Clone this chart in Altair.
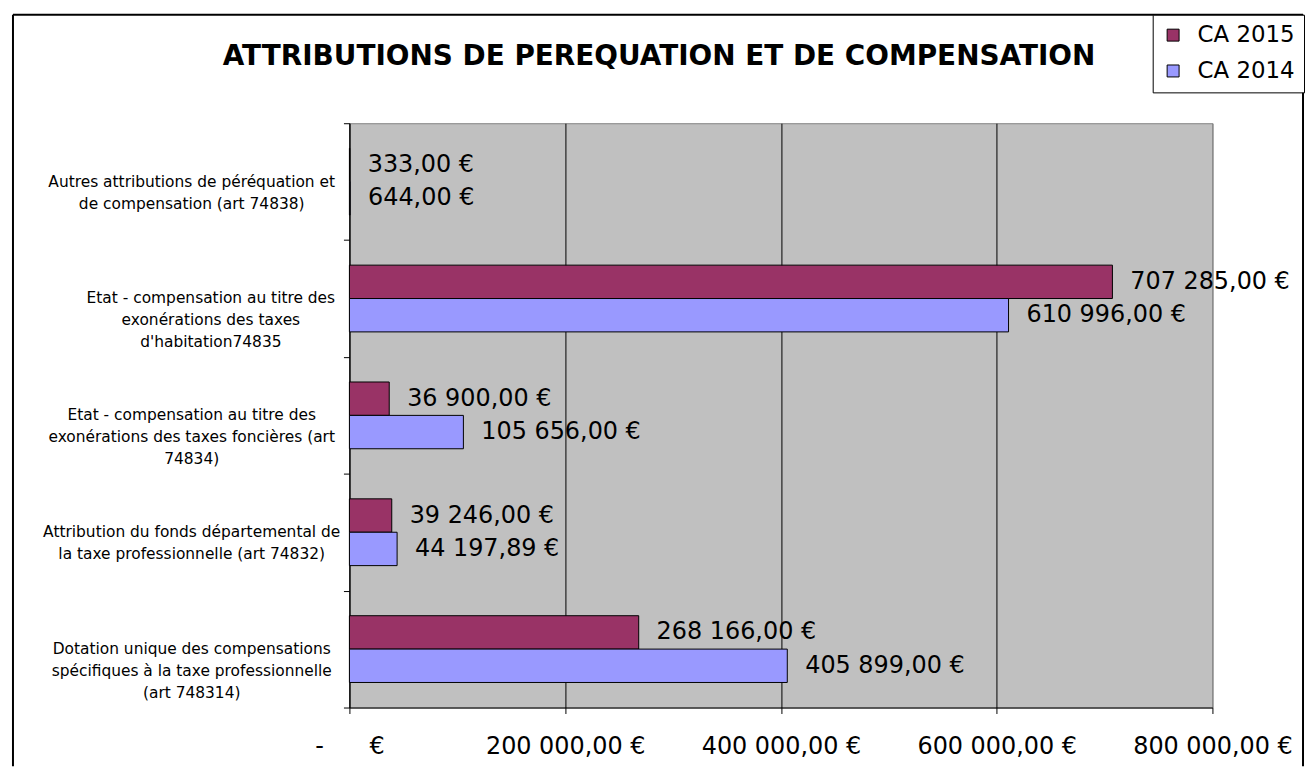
import altair as alt
import pandas as pd

TITLE = "ATTRIBUTIONS DE PEREQUATION ET DE COMPENSATION"
categories = [
    "Autres attributions de péréquation et\nde compensation (art 74838)",
    "Etat - compensation au titre des\nexonérations des taxes\nd'habitation74835",
    "Etat - compensation au titre des\nexonérations des taxes foncières (art\n74834)",
    "Attribution du fonds départemental de\nla taxe professionnelle (art 74832)",
    "Dotation unique des compensations\nspécifiques à la taxe professionnelle\n(art 748314)",
]
series = ["CA 2015", "CA 2014"]
values_2015 = [333.00, 707285.00, 36900.00, 39246.00, 268166.00]
values_2014 = [644.00, 610996.00, 105656.00, 44197.89, 405899.00]
x_ticks = [0, 200000, 400000, 600000, 800000]
colors = ["#993366", "#9999FF"]


def fr(v):
    return f"{v:,.2f}".replace(",", " ").replace(".", ",") + " €"


rows = []
for c, a, b in zip(categories, values_2015, values_2014):
    rows.append({"category": c, "series": series[0], "value": a, "label": fr(a)})
    rows.append({"category": c, "series": series[1], "value": b, "label": fr(b)})
df = pd.DataFrame(rows)

cat_df = pd.DataFrame({
    "category": categories,
    "maxlen": [max(len(s) for s in c.split("\n")) for c in categories],
})

FONT = "DejaVu Sans"

y_enc = alt.Y("category:N", scale=alt.Scale(domain=categories, paddingInner=0, paddingOuter=0),
              axis=alt.Axis(labels=False, title=None, tickBand="extent", tickSize=6,
                            tickColor="black", domainColor="black", grid=False))
yoff = alt.YOffset("series:N", scale=alt.Scale(domain=series, paddingInner=0, paddingOuter=0.75))

nb = "\u00a0"
label_expr = ("datum.value == 0 ? '-" + nb * 6 + "€' : "
              "replace(replace(format(datum.value, ',.2f'), ',', ' '), '.', ',') + ' €'")

x_enc = alt.X("value:Q", scale=alt.Scale(domain=[0, 800000], nice=False, zero=True),
              axis=alt.Axis(values=x_ticks, labelExpr=label_expr, title=None,
                            labelFont=FONT, labelFontSize=24, labelColor="black",
                            tickSize=6, tickColor="black", domainColor="black",
                            gridColor={"condition": {"test": "datum.value === 800000", "value": "#808080"},
                                       "value": "black"},
                            gridWidth=1, labelPadding=21, labelFlush=False, labelOverlap=False))

base = alt.Chart(df)

bars = base.mark_bar(stroke="black", strokeWidth=1).encode(
    x=x_enc,
    y=y_enc,
    yOffset=yoff,
    color=alt.Color("series:N", scale=alt.Scale(domain=series, range=colors),
                    legend=alt.Legend(orient="none", legendX=807, legendY=-109, title=None,
                                      strokeColor="black", fillColor="white", padding=9,
                                      labelFont=FONT, labelFontSize=23, labelColor="black",
                                      symbolType="square", symbolSize=144,
                                      symbolStrokeColor="black", symbolStrokeWidth=1,
                                      rowPadding=12, labelOffset=13, symbolOpacity=1)),
)

value_labels = base.mark_text(align="left", baseline="middle", dx=18, font=FONT,
                              fontSize=24, color="black").encode(
    x="value:Q",
    y=alt.Y("category:N", scale=alt.Scale(domain=categories)),
    yOffset=yoff,
    text="label:N",
)

cat_labels = alt.Chart(cat_df).transform_calculate(
    xpos="-16 - 3.85 * datum.maxlen"
).mark_text(align="center", baseline="middle", font=FONT, fontSize=15.5,
            lineHeight=22, lineBreak="\n", color="black").encode(
    x=alt.X("xpos:Q", scale=None, axis=None),
    y=alt.Y("category:N", scale=alt.Scale(domain=categories)),
    text="category:N",
)

title = alt.Chart(alt.Data(values=[{"t": TITLE}])).mark_text(
    align="center", baseline="alphabetic", font=FONT, fontSize=28, fontWeight="bold",
    color="black").encode(x=alt.value(311), y=alt.value(-58), text="t:N")

one = alt.Data(values=[{"a": 1}])
border_top = alt.Chart(one).mark_rule(color="black", strokeWidth=2).encode(
    x=alt.value(-338), x2=alt.value(958), y=alt.value(-109))
border_left = alt.Chart(one).mark_rule(color="black", strokeWidth=2).encode(
    x=alt.value(-338), y=alt.value(-109), y2=alt.value(646))
border_right = alt.Chart(one).mark_rule(color="black", strokeWidth=2).encode(
    x=alt.value(958), y=alt.value(-109), y2=alt.value(646))

chart = alt.layer(border_top, border_left, border_right, title, bars, value_labels, cat_labels).properties(
    width=867, height=587, background="white",
    padding={"left": 4, "top": 4, "right": 0, "bottom": 0},
).configure_view(fill="#C0C0C0", stroke="#808080", strokeWidth=1)

chart.save("out.html", embed_options={"renderer": "svg", "actions": False})
